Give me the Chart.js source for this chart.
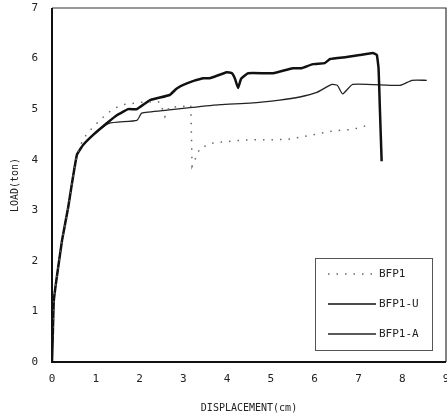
<!DOCTYPE html>
<html>
<head>
<meta charset="utf-8">
<script src="https://cdn.jsdelivr.net/npm/chart.js@4.4.0/dist/chart.umd.min.js"></script>
<style>
  html, body { margin: 0; padding: 0; background: #fff; }
</style>
</head>
<body>
<canvas id="myChart" width="447" height="418"></canvas>
<script>
// values (x = displacement cm, y = load ton)
var bfp1X = [0, 0.02, 0.04, 0.1, 0.23, 0.37, 0.45, 0.57, 0.71, 0.91, 1.14, 1.39, 1.62, 2.08, 2.47, 2.58, 2.68, 2.92, 3.17, 3.2, 3.38, 3.68, 4.36, 5.36, 5.82, 6.42, 6.87, 7.21];
var bfp1Y = [0, 0.6, 1.2, 1.62, 2.41, 3.06, 3.5, 4.1, 4.41, 4.62, 4.82, 5.0, 5.09, 5.14, 5.14, 4.85, 5.05, 5.04, 5.08, 3.87, 4.23, 4.33, 4.39, 4.4, 4.47, 4.57, 4.6, 4.68];

var bfp1uX = [0, 0.02, 0.04, 0.1, 0.23, 0.37, 0.45, 0.57, 0.71, 0.94, 1.25, 1.48, 1.74, 1.94, 2.24, 2.69, 2.85, 3.08, 3.45, 3.6, 3.99, 4.11, 4.18, 4.25, 4.32, 4.48, 5.05, 5.5, 5.7, 5.96, 6.23, 6.35, 6.73, 7.03, 7.33, 7.42, 7.46, 7.49, 7.53];
var bfp1uY = [0, 0.6, 1.2, 1.62, 2.41, 3.06, 3.5, 4.1, 4.29, 4.49, 4.72, 4.88, 5.0, 5.0, 5.18, 5.28, 5.41, 5.51, 5.61, 5.61, 5.73, 5.71, 5.6, 5.42, 5.6, 5.71, 5.71, 5.81, 5.81, 5.89, 5.91, 5.99, 6.03, 6.07, 6.11, 6.07, 5.8, 5.0, 3.97];

var bfp1aX = [0, 0.02, 0.04, 0.1, 0.23, 0.37, 0.45, 0.57, 0.71, 0.94, 1.3, 1.94, 2.05, 2.63, 3.15, 3.84, 4.52, 5.2, 5.66, 6.05, 6.39, 6.52, 6.64, 6.87, 7.95, 8.22, 8.56];
var bfp1aY = [0, 0.6, 1.2, 1.62, 2.41, 3.06, 3.5, 4.1, 4.29, 4.49, 4.72, 4.78, 4.92, 4.98, 5.03, 5.09, 5.12, 5.18, 5.24, 5.33, 5.49, 5.47, 5.3, 5.49, 5.47, 5.57, 5.57];

var seriesNames = ['BFP1', 'BFP1-U', 'BFP1-A'];
var xTicks = [0, 1, 2, 3, 4, 5, 6, 7, 8, 9];
var yTicks = [0, 1, 2, 3, 4, 5, 6, 7];

function pts(xs, ys) {
    return xs.map(function (x, i) { return { x: x, y: ys[i] }; });
}

var fontFam = '"DejaVu Sans Mono", monospace';

// frame round the plot + legend box inside it
var framePlugin = {
    id: 'frame',
    afterDraw: function (chart) {
        var ctx = chart.ctx, a = chart.chartArea;
        ctx.save();
        ctx.strokeStyle = '#333';
        ctx.lineWidth = 1.2;
        ctx.beginPath();
        ctx.moveTo(a.left, a.top);
        ctx.lineTo(a.right, a.top);
        ctx.lineTo(a.right, a.bottom);
        ctx.stroke();
        ctx.strokeStyle = '#111';
        ctx.lineWidth = 2;
        ctx.beginPath();
        ctx.moveTo(a.left, a.top);
        ctx.lineTo(a.left, a.bottom);
        ctx.lineTo(a.right, a.bottom);
        ctx.stroke();

        // legend
        var w = 117, h = 92;
        var left = a.right - 14 - w, top = a.bottom - 12 - h;
        ctx.strokeStyle = '#555';
        ctx.lineWidth = 1;
        ctx.strokeRect(left + 0.5, top + 0.5, w, h);
        ctx.font = '11px ' + fontFam;
        ctx.textBaseline = 'middle';
        ctx.fillStyle = '#222';
        chart.data.datasets.forEach(function (ds, i) {
            var y = top + 16 + i * 30;
            ctx.save();
            ctx.strokeStyle = ds.borderColor;
            ctx.lineWidth = Math.min(ds.borderWidth, 1.4);
            ctx.setLineDash(ds.borderDash || []);
            ctx.beginPath();
            ctx.moveTo(left + 13, y);
            ctx.lineTo(left + 61, y);
            ctx.stroke();
            ctx.restore();
            ctx.fillText(ds.label, left + 64, y);
        });
        ctx.restore();
    }
};

var chart = new Chart(document.getElementById('myChart'), {
    type: 'scatter',
    data: {
        datasets: [
            { label: seriesNames[0], data: pts(bfp1X, bfp1Y), showLine: true, borderColor: '#666',
              borderWidth: 1.5, borderDash: [1.5, 7], pointRadius: 0, tension: 0 },
            { label: seriesNames[1], data: pts(bfp1uX, bfp1uY), showLine: true, borderColor: '#111',
              borderWidth: 2.5, pointRadius: 0, tension: 0.1 },
            { label: seriesNames[2], data: pts(bfp1aX, bfp1aY), showLine: true, borderColor: '#222',
              borderWidth: 1.3, pointRadius: 0, tension: 0.15 }
        ]
    },
    options: {
        responsive: false,
        animation: false,
        layout: { padding: { top: 8, right: 1, left: 0, bottom: 0 } },
        plugins: { legend: { display: false }, tooltip: { enabled: false } },
        scales: {
            x: {
                type: 'linear', min: 0, max: 9,
                afterBuildTicks: function (s) { s.ticks = xTicks.map(function (v) { return { value: v }; }); },
                afterFit: function (s) { s.height = 56; s.paddingLeft = 0; s.paddingRight = 0; },
                grid: { display: false, drawTicks: false },
                border: { display: false },
                ticks: { padding: 11, color: '#222', font: { family: fontFam, size: 11 } },
                title: { display: true, text: 'DISPLACEMENT(cm)', color: '#222',
                         font: { family: fontFam, size: 10 }, padding: { top: 0, bottom: 4 } }
            },
            y: {
                type: 'linear', min: 0, max: 7,
                afterBuildTicks: function (s) { s.ticks = yTicks.map(function (v) { return { value: v }; }); },
                afterFit: function (s) { s.width = 52; s.paddingTop = 0; s.paddingBottom = 0; },
                grid: { display: false, drawTicks: false },
                border: { display: false },
                ticks: { padding: 14, color: '#222', font: { family: fontFam, size: 11 } },
                title: { display: true, text: 'LOAD(ton)', color: '#222',
                         font: { family: fontFam, size: 10 }, padding: { top: 9, bottom: 0 } }
            }
        }
    },
    plugins: [framePlugin]
});
</script>
</body>
</html>
